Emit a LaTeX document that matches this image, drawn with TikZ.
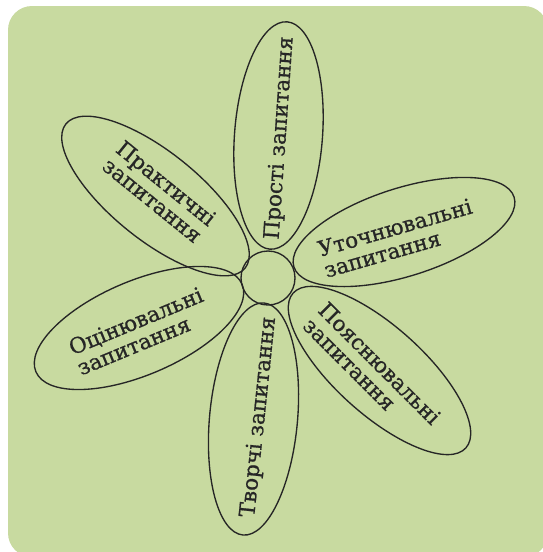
\documentclass[tikz,border=0pt]{standalone}
\usepackage{fontspec}
\setmainfont{DejaVu Serif}
\newfontfamily\lblfont{DejaVu Serif}[FakeBold=0.8]
\usetikzlibrary{shapes.geometric}
\definecolor{bggreen}{RGB}{200,218,160}
\definecolor{inkc}{RGB}{38,38,38}
\begin{document}
\begin{tikzpicture}[x=1pt,y=-1pt,
  petal/.style={draw=inkc, line width=1.35pt, ellipse, inner sep=0pt, minimum height=88pt},
  lbl/.style={text=inkc, font=\lblfont\fontsize{21.5}{22}\selectfont, align=left, inner sep=0pt},
  hub/.style={draw=inkc, line width=1.35pt, circle, minimum size=54pt, inner sep=0pt}]
\path[use as bounding box] (0,0) rectangle (543,552);
\clip (0,0) rectangle (543,552);
\fill[white] (0,0) rectangle (543,552);
\fill[bggreen, rounded corners=24pt] (8,6) rectangle (548,557);
% petals
\node[petal, rotate=85.7, minimum width=228pt] (p1) at (278.5,135.5) {};
\node[petal, rotate=17.6, minimum width=231pt] (p2) at (404,232) {};
\node[petal, rotate=-41.9, minimum width=232pt] (p3) at (379.5,370.5) {};
\node[petal, rotate=84.8, minimum width=233pt] (p4) at (253.5,419) {};
\node[petal, rotate=23, minimum width=224pt, minimum height=94pt] (p5) at (139,328) {};
\node[petal, rotate=-38.8, minimum width=230pt] (p6) at (155.5,196) {};
\node[hub] (c) at (268,278) {};
% labels
\node[lbl, rotate=86] (t1) at (280,138) {Прості запитання};
\node[lbl, rotate=16] (t2) at (398,238) {Уточнювальні\\запитання};
\node[lbl, rotate=-45] (t3) at (372,371) {Пояснювальні\\запитання};
\node[lbl, rotate=84] (t4) at (259,417) {Творчі запитання};
\node[lbl, rotate=22.5] (t5) at (140,331) {Оцінювальні\\запитання};
\node[lbl, rotate=-39] (t6) at (159.4,191.7) {Практичні\\запитання};
\end{tikzpicture}
\end{document}
